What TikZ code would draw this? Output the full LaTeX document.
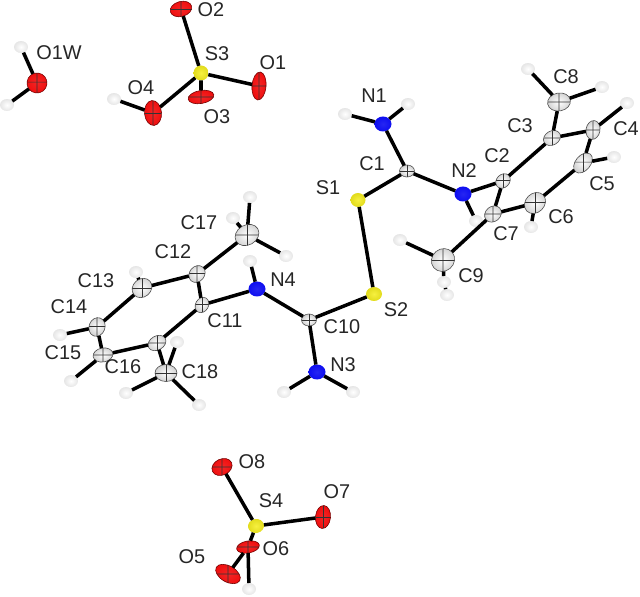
\documentclass[tikz,border=0pt]{standalone}
\usepackage{fontspec}
\setmainfont{Liberation Sans}
\usetikzlibrary{shapes.geometric}

\definecolor{oxred}{RGB}{240,14,14}
\definecolor{sulfyellow}{RGB}{245,238,30}
\definecolor{nitroblue}{RGB}{14,14,240}

\tikzset{
  adp/.style n args={3}{minimum width=#1*0.03cm, minimum height=#2*0.03cm, rotate=#3},
  atom/.style={ellipse, inner sep=0pt, outer sep=0pt, shade},
  octant/.style={path picture={
    \draw[line width=0.5pt, black!80] (path picture bounding box.west) -- (path picture bounding box.east);
    \draw[line width=0.5pt, black!80] (path picture bounding box.north) -- (path picture bounding box.south);
  }},
  catom/.style={atom, octant, draw=black!70, line width=0.5pt, inner color=white, outer color=black!18},
  oatom/.style={atom, octant, draw=red!45!black, line width=0.5pt, inner color=oxred!90!white, outer color=oxred},
  satom/.style={atom, inner color=sulfyellow!85!white, outer color=sulfyellow!92!black},
  natom/.style={atom, inner color=nitroblue!90!white, outer color=nitroblue},
  hatom/.style={atom, inner color=white, outer color=black!10, minimum width=14*0.03cm, minimum height=12*0.03cm},
  bond/.style={line width=3pt, black},
  atomlabel/.style={inner sep=0pt, text=black!85, font=\fontsize{17}{19}\selectfont},
}

\begin{document}
\begin{tikzpicture}[x=0.03cm, y=-0.03cm]
  \useasboundingbox (0,0) rectangle (640,597);

  % 水分子
  \node[oatom, adp={20}{20}{60}] (O1W) at (37,83) {};
  \node[hatom] (H1Wa) at (21,47) {};
  \node[hatom] (H1Wb) at (7,105) {};
  \draw[bond] (O1W) -- (H1Wa);
  \draw[bond] (O1W) -- (H1Wb);

  % 硫酸根 S3
  \node[satom, adp={15}{15}{0}] (S3) at (201,73) {};
  \node[oatom, adp={22}{15}{15}] (O2) at (181,9) {};
  \node[oatom, adp={28}{14}{85}] (O1) at (259,86) {};
  \node[oatom, adp={26}{13}{10}] (O3) at (201,97) {};
  \node[oatom, adp={25}{17}{95}] (O4) at (153,113) {};
  \node[hatom] (H4) at (114,99) {};
  \draw[bond] (S3) -- (O2);
  \draw[bond] (S3) -- (O1);
  \draw[bond] (S3) -- (O3);
  \draw[bond] (S3) -- (O4);
  \draw[bond] (O4) -- (H4);

  % 硫酸根 S4
  \node[satom, adp={16}{14}{10}] (S4) at (256,526) {};
  \node[oatom, adp={21}{16}{25}] (O8) at (222,467) {};
  \node[oatom, adp={23}{15}{85}] (O7) at (323,517) {};
  \node[oatom, adp={23}{12}{10}] (O6) at (248,547) {};
  \node[oatom, adp={27}{16}{-30}] (O5) at (228,574) {};
  \node[hatom] (H6) at (249,589) {};
  \draw[bond] (S4) -- (O8);
  \draw[bond] (S4) -- (O7);
  \draw[bond] (S4) -- (O6);
  \draw[bond] (O6) -- (O5);
  \draw[bond] (O6) -- (H6);

  % 阳离子一:中心原子
  \node[satom, adp={15}{14}{0}] (S1) at (358,200) {};
  \node[satom, adp={16}{14}{0}] (S2) at (374,294) {};
  \node[natom, adp={17}{15}{0}] (N1) at (383,124) {};
  \node[natom, adp={17}{15}{0}] (N2) at (463,194) {};
  \node[catom, adp={15}{12}{0}] (C1) at (407,171) {};
  \node[catom, adp={16}{13}{45}] (C2) at (503,181) {};
  \node[catom, adp={18}{14}{30}] (C3) at (552,138) {};
  \node[catom, adp={19}{14}{80}] (C4) at (593,130) {};
  \node[catom, adp={23}{15}{50}] (C5) at (583,163) {};
  \node[catom, adp={23}{19}{45}] (C6) at (535,203) {};
  \node[catom, adp={18}{15}{40}] (C7) at (493,214) {};
  \node[catom, adp={23}{18}{10}] (C8) at (559,102) {};
  \node[catom, adp={24}{22}{40}] (C9) at (443,260) {};

  % 阳离子一:氢原子
  \node[hatom] (H1a) at (345,114) {};
  \node[hatom] (H1b) at (408,104) {};
  \node[hatom] (H2) at (476,221) {};
  \node[hatom] (H8a) at (528,69) {};
  \node[hatom] (H8b) at (602,87) {};
  \node[hatom] (H4C) at (627,103) {};
  \node[hatom] (H5C) at (614,157) {};
  \node[hatom] (H6C) at (531,227) {};
  \node[hatom] (H9a) at (400,240) {};
  \node[hatom] (H9b) at (444,282) {};
  \node[hatom] (H9c) at (447,295) {};

  % 阳离子一:键
  \draw[bond] (S1) -- (S2);
  \draw[bond] (S1) -- (C1);
  \draw[bond] (C1) -- (N1);
  \draw[bond] (C1) -- (N2);
  \draw[bond] (N2) -- (C2);
  \draw[bond] (N2) -- (H2);
  \draw[bond] (N1) -- (H1a);
  \draw[bond] (N1) -- (H1b);
  \draw[bond] (C2) -- (C3);
  \draw[bond] (C2) -- (C7);
  \draw[bond] (C3) -- (C4);
  \draw[bond] (C3) -- (C8);
  \draw[bond] (C4) -- (C5);
  \draw[bond] (C5) -- (C6);
  \draw[bond] (C6) -- (C7);
  \draw[bond] (C7) -- (C9);
  \draw[bond] (C8) -- (H8a);
  \draw[bond] (C8) -- (H8b);
  \draw[bond] (C4) -- (H4C);
  \draw[bond] (C5) -- (H5C);
  \draw[bond] (C6) -- (H6C);
  \draw[bond] (C9) -- (H9a);
  \draw[bond] (C9) -- (H9b);
  \draw[bond] (H9b) -- (H9c);

  % 阳离子二:中心原子
  \node[natom, adp={17}{15}{0}] (N3) at (317,372) {};
  \node[natom, adp={17}{15}{0}] (N4) at (257,289) {};
  \node[catom, adp={15}{12}{0}] (C10) at (309,320) {};
  \node[catom, adp={16}{13}{60}] (C11) at (202,305) {};
  \node[catom, adp={18}{15}{50}] (C12) at (197,274) {};
  \node[catom, adp={21}{18}{40}] (C13) at (142,288) {};
  \node[catom, adp={19}{16}{70}] (C14) at (97,327) {};
  \node[catom, adp={20}{14}{10}] (C15) at (103,355) {};
  \node[catom, adp={19}{14}{30}] (C16) at (157,343) {};
  \node[catom, adp={25}{20}{30}] (C17) at (247,235) {};
  \node[catom, adp={22}{17}{0}] (C18) at (166,373) {};

  % 阳离子二:氢原子
  \node[hatom] (H3a) at (284,392) {};
  \node[hatom] (H3b) at (353,392) {};
  \node[hatom] (H4N) at (250,261) {};
  \node[hatom] (H13) at (136,272) {};
  \node[hatom] (H14) at (60,335) {};
  \node[hatom] (H15) at (71,381) {};
  \node[hatom] (H17a) at (250,197) {};
  \node[hatom] (H17b) at (233,218) {};
  \node[hatom] (H17c) at (286,256) {};
  \node[hatom] (H18a) at (177,342) {};
  \node[hatom] (H18b) at (126,393) {};
  \node[hatom] (H18c) at (199,405) {};

  % 阳离子二:键
  \draw[bond] (S2) -- (C10);
  \draw[bond] (C10) -- (N3);
  \draw[bond] (C10) -- (N4);
  \draw[bond] (N4) -- (C11);
  \draw[bond] (N4) -- (H4N);
  \draw[bond] (N3) -- (H3a);
  \draw[bond] (N3) -- (H3b);
  \draw[bond] (C11) -- (C12);
  \draw[bond] (C11) -- (C16);
  \draw[bond] (C12) -- (C13);
  \draw[bond] (C12) -- (C17);
  \draw[bond] (C13) -- (C14);
  \draw[bond] (C14) -- (C15);
  \draw[bond] (C15) -- (C16);
  \draw[bond] (C16) -- (C18);
  \draw[bond] (C13) -- (H13);
  \draw[bond] (C14) -- (H14);
  \draw[bond] (C15) -- (H15);
  \draw[bond] (C17) -- (H17a);
  \draw[bond] (C17) -- (H17b);
  \draw[bond] (C17) -- (H17c);
  \draw[bond] (C18) -- (H18a);
  \draw[bond] (C18) -- (H18b);
  \draw[bond] (C18) -- (H18c);

  % 标记原子符号
  \node[atomlabel] (lO1W) at (59,53) {O1W};
  \node[atomlabel] (lS3) at (217,54) {S3};
  \node[atomlabel] (lO2) at (211,10) {O2};
  \node[atomlabel] (lO1) at (273,63) {O1};
  \node[atomlabel] (lO4) at (141,88) {O4};
  \node[atomlabel] (lO3) at (217,117) {O3};
  \node[atomlabel] (lN1) at (374,96) {N1};
  \node[atomlabel] (lC1) at (372,164) {C1};
  \node[atomlabel] (lS1) at (328,188) {S1};
  \node[atomlabel] (lN2) at (464,171) {N2};
  \node[atomlabel] (lC2) at (497,156) {C2};
  \node[atomlabel] (lC3) at (520,126) {C3};
  \node[atomlabel] (lC8) at (566,77) {C8};
  \node[atomlabel] (lC4) at (626,129) {C4};
  \node[atomlabel] (lC5) at (602,184) {C5};
  \node[atomlabel] (lC6) at (561,217) {C6};
  \node[atomlabel] (lC7) at (506,234) {C7};
  \node[atomlabel] (lC9) at (471,276) {C9};
  \node[atomlabel] (lS2) at (396,310) {S2};
  \node[atomlabel] (lC17) at (199,223) {C17};
  \node[atomlabel] (lC12) at (173,252) {C12};
  \node[atomlabel] (lC13) at (96,281) {C13};
  \node[atomlabel] (lC14) at (69,307) {C14};
  \node[atomlabel] (lC15) at (63,353) {C15};
  \node[atomlabel] (lC16) at (123,367) {C16};
  \node[atomlabel] (lC11) at (225,321) {C11};
  \node[atomlabel] (lN4) at (283,280) {N4};
  \node[atomlabel] (lC18) at (200,372) {C18};
  \node[atomlabel] (lC10) at (342,327) {C10};
  \node[atomlabel] (lN3) at (343,365) {N3};
  \node[atomlabel] (lO8) at (252,462) {O8};
  \node[atomlabel] (lS4) at (271,501) {S4};
  \node[atomlabel] (lO7) at (337,492) {O7};
  \node[atomlabel] (lO6) at (276,549) {O6};
  \node[atomlabel] (lO5) at (192,557) {O5};
\end{tikzpicture}
\end{document}
